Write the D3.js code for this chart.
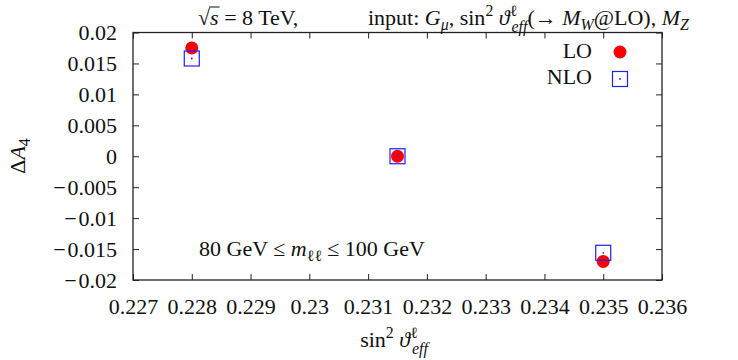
<!DOCTYPE html>
<html>
<head>
<meta charset="utf-8">
<script src="https://cdn.jsdelivr.net/npm/d3@7"></script>
<style>
body { margin: 0; background: #fff; }
text { font-family: "Liberation Serif", "DejaVu Serif", serif; fill: #111; }
</style>
</head>
<body>
<svg id="chart" width="738" height="360"></svg>
<script>
//Data
var sinVals = [0.228, 0.2315, 0.235];
var loVals = [0.0175, 0.0, -0.0170];
var nloVals = [0.0158, 0.0, -0.0156];

//Tick values
var xTicks = [0.227, 0.228, 0.229, 0.23, 0.231, 0.232, 0.233, 0.234, 0.235, 0.236];
var yTicks = [0.02, 0.015, 0.01, 0.005, 0, -0.005, -0.01, -0.015, -0.02];

var W = 738, H = 360;
var margin = {left: 133, right: 76, top: 32.5, bottom: 80};
var fs = 22;     //tick labels
var fsText = 22; //titles, legend, annotation
var serif = "'Liberation Serif', 'DejaVu Serif', serif";

var svg = d3.select("#chart");

var x = d3.scaleLinear().domain([0.227, 0.236]).range([margin.left, W - margin.right]);
var y = d3.scaleLinear().domain([-0.02, 0.02]).range([H - margin.bottom, margin.top]);

var fmt0 = d3.format("~g");
//TeX-like minus: a little gap before the number
var fmt = function(v) { return v < 0 ? "\u2212\u200A" + fmt0(-v) : fmt0(v); };

//Builds a text with sub/superscripts from a list of [string, kind] pairs
function mathText(parent, px, py, parts, size, anchor)
{
    let t = parent.append("text").attr("x", px).attr("y", py)
        .attr("font-size", size).attr("text-anchor", anchor || "start")
        .style("font-family", serif);
    let shift = 0;
    let lastW = 0;
    parts.forEach(function(p)
    {
        let str = p[0], kind = p[1] || "";
        let target = 0, size2 = size, dx = 0;
        if(kind.indexOf("sup") >= 0) { target = -0.4 * size; size2 = 0.72 * size; }
        if(kind.indexOf("sub") >= 0) { target = 0.22 * size; size2 = 0.72 * size; }
        if(kind.indexOf("back") >= 0) { dx = -lastW + 2; target = 0.3 * size; }
        let ts = t.append("tspan").attr("font-size", size2).attr("dy", target - shift).text(str);
        if(dx) ts.attr("dx", dx);
        if(kind.indexOf("i") >= 0) ts.attr("font-style", "italic");
        shift = target;
        lastW = ts.node().getComputedTextLength();
    });
    return t;
}

//Axes: ticks point inward, labels only on left and bottom
function styleAxis(g)
{
    g.select(".domain").remove();
    g.attr("font-family", null).attr("font-size", null);
    g.selectAll("text").attr("font-size", fs).style("font-family", serif).attr("fill", "#111");
    g.selectAll("line").attr("stroke", "#222");
}

svg.append("g").attr("transform", "translate(0," + y(-0.02) + ")")
    .call(d3.axisBottom(x).tickValues(xTicks).tickFormat(fmt).tickSizeInner(-6).tickSizeOuter(0).tickPadding(18))
    .call(styleAxis);

svg.append("g").attr("transform", "translate(0," + y(0.02) + ")")
    .call(d3.axisTop(x).tickValues(xTicks).tickFormat("").tickSizeInner(-6).tickSizeOuter(0))
    .call(styleAxis);

svg.append("g").attr("transform", "translate(" + x(0.227) + ",0)")
    .call(d3.axisLeft(y).tickValues(yTicks).tickFormat(fmt).tickSizeInner(-6).tickSizeOuter(0).tickPadding(16))
    .call(styleAxis);

svg.append("g").attr("transform", "translate(" + x(0.236) + ",0)")
    .call(d3.axisRight(y).tickValues(yTicks).tickFormat("").tickSizeInner(-6).tickSizeOuter(0))
    .call(styleAxis);

//Frame
svg.append("rect")
    .attr("x", x(0.227)).attr("y", y(0.02))
    .attr("width", x(0.236) - x(0.227)).attr("height", y(-0.02) - y(0.02))
    .attr("fill", "none").attr("stroke", "#222").attr("stroke-width", 1.3);

//LO points
svg.append("g").selectAll("circle").data(sinVals).join("circle")
    .attr("cx", d => x(d)).attr("cy", (d, i) => y(loVals[i]))
    .attr("r", 6.5).attr("fill", "#ff0000");

//NLO points, open squares with a dot in the middle
var nlo = svg.append("g").selectAll("g").data(sinVals).join("g")
    .attr("transform", (d, i) => "translate(" + x(d) + "," + y(nloVals[i]) + ")");
nlo.append("rect").attr("x", -7.5).attr("y", -7.5).attr("width", 15).attr("height", 15)
    .attr("fill", "none").attr("stroke", "#1f1fff").attr("stroke-width", 1.2);
nlo.append("circle").attr("r", 0.9).attr("fill", "#1f1fff");

//Legend
mathText(svg, 592, 58, [["LO"]], fsText, "end");
mathText(svg, 592, 84, [["NLO"]], fsText, "end");
svg.append("circle").attr("cx", 620).attr("cy", 52).attr("r", 6.5).attr("fill", "#ff0000");
svg.append("rect").attr("x", 612.5).attr("y", 71.5).attr("width", 15).attr("height", 15)
    .attr("fill", "none").attr("stroke", "#1f1fff").attr("stroke-width", 1.2);
svg.append("circle").attr("cx", 620).attr("cy", 79).attr("r", 0.9).attr("fill", "#1f1fff");

//Title line
var t1 = mathText(svg, 198, 25, [["\u221A"], ["s", "i"], [" = 8 TeV,"]], fsText);
let ext = t1.node().getExtentOfChar(1);
let rootExt = t1.node().getExtentOfChar(0);
svg.append("line").attr("x1", rootExt.x + rootExt.width - 1).attr("x2", ext.x + ext.width + 1)
    .attr("y1", rootExt.y + 2).attr("y2", rootExt.y + 2).attr("stroke", "#111").attr("stroke-width", 1);

mathText(svg, 368, 25, [["input: "], ["G", "i"], ["\u03BC", "subi"], [", sin"], ["2", "sup"], [" "],
    ["\u03D1", "i"], ["\u2113", "sup"], ["eff", "subiback"], ["(\u2192 "], ["M", "i"], ["W", "subi"],
    ["@LO), "], ["M", "i"], ["Z", "subi"]], fsText);

//Mass window annotation
mathText(svg, 199, 256, [["80 GeV \u2264 "], ["m", "i"], ["\u2113\u2113", "sub"], [" \u2264 100 GeV"]], fsText);

//Axis titles
mathText(svg, 394, 347, [["sin"], ["2", "sup"], [" "], ["\u03D1", "i"], ["\u2113", "sup"], ["eff", "subiback"]], fsText, "middle");

var yl = svg.append("g").attr("transform", "translate(25,156) rotate(-90)");
mathText(yl, 0, 0, [["\u0394"], ["A", "i"], ["4", "sub"]], fsText, "middle");
</script>
</body>
</html>
